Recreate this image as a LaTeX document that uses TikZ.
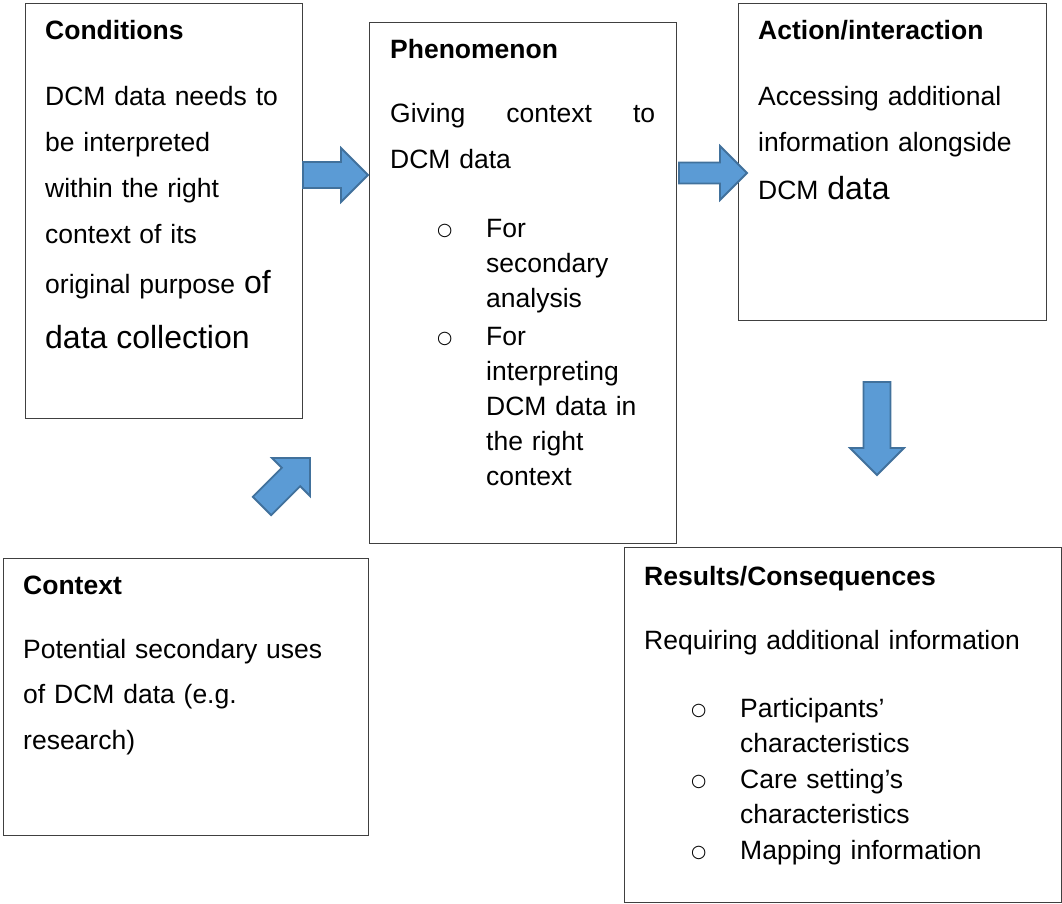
\documentclass[tikz,border=0pt]{standalone}
\usepackage{fontspec}
\setmainfont{Liberation Sans}
\newfontfamily\symfont{DejaVu Sans}
\usepackage{tikz}
\usetikzlibrary{positioning}

\definecolor{arrowfill}{HTML}{5B9BD5}
\definecolor{arrowline}{HTML}{41719C}

\newcommand{\bigw}[1]{{\fontsize{32}{46}\selectfont #1}}
\newcommand{\bulsym}{\raisebox{2pt}{\symfont\fontsize{17.5}{17.5}\selectfont ○}}
\newcommand{\bul}[1]{\hspace*{47pt}\makebox[49pt][l]{\bulsym}#1}
\newcommand{\cont}[1]{\hspace*{96pt}#1}

\begin{document}
\begin{tikzpicture}
[x=1pt,y=-1pt,
box/.style={draw=black!75,fill=white,line width=1.3pt,anchor=north west,inner sep=0pt},
txt/.style={anchor=north west,inner sep=0pt,align=left,font=\fontsize{26.5}{46}\selectfont},
barrow/.style={draw=arrowline,fill=arrowfill,line width=1.8pt,line join=miter},
pics/blkarrow/.style 2 args={code={
  \draw[barrow] (0,-#2) -- (#1-27,-#2) -- (#1-27,-27) -- (#1,0) -- (#1-27,27) -- (#1-27,#2) -- (0,#2) -- cycle;}}]
\useasboundingbox (0,0) rectangle (1062,904);

% boxes
\node[box,minimum width=277pt,minimum height=415pt] (cond) at (25,3) {};
\node[box,minimum width=307pt,minimum height=521pt] (phen) at (369,22) {};
\node[box,minimum width=308pt,minimum height=317pt] (act) at (738,3) {};
\node[box,minimum width=365pt,minimum height=277pt] (ctx) at (3,558) {};
\node[box,minimum width=437pt,minimum height=355pt] (res) at (624,547) {};

% texts
\node[txt,text width=250pt,below right=17pt and 20pt of cond.north west] (condtxt)
  {\textbf{Conditions}\\[20pt]
   DCM data needs to\\
   be interpreted\\
   within the right\\
   context of its\\[4pt]
   original purpose \bigw{of}\\[9pt]
   \bigw{data collection}};
\node[txt,text width=265pt,below right=17.5pt and 21pt of phen.north west] (phentxt)
  {\textbf{Phenomenon}\\[18pt]
   Giving\hfill context\hfill to\\
   DCM data\\[23pt]
   \bul{For}\\[-11pt]
   \cont{secondary}\\[-11pt]
   \cont{analysis}\\[-8pt]
   \bul{For}\\[-11pt]
   \cont{interpreting}\\[-11pt]
   \cont{DCM data in}\\[-11pt]
   \cont{the right}\\[-11pt]
   \cont{context}};
\node[txt,text width=280pt,below right=17pt and 20pt of act.north west] (acttxt)
  {\textbf{Action/interaction}\\[20pt]
   Accessing additional\\
   information alongside\\[2pt]
   DCM \bigw{data}};
\node[txt,text width=320pt,below right=18pt and 20pt of ctx.north west] (ctxtxt)
  {\textbf{Context}\\[18pt]
   Potential secondary uses\\[-1pt]
   of DCM data (e.g.\\
   research)};
\node[txt,text width=400pt,below right=19pt and 20pt of res.north west] (restxt)
  {\textbf{Results/Consequences}\\[18pt]
   Requiring additional information\\[22pt]
   \bul{Participants’}\\[-11pt]
   \cont{characteristics}\\[-10pt]
   \bul{Care setting’s}\\[-11pt]
   \cont{characteristics}\\[-10pt]
   \bul{Mapping information}};

% block arrows
\pic at (303,175) {blkarrow={65}{13}};
\pic at (679,173) {blkarrow={68}{10.5}};
\pic[rotate=-90] at (877,382) {blkarrow={93}{13.5}};
\pic[rotate=45] at (262,506) {blkarrow={68}{13}};
\end{tikzpicture}
\end{document}
